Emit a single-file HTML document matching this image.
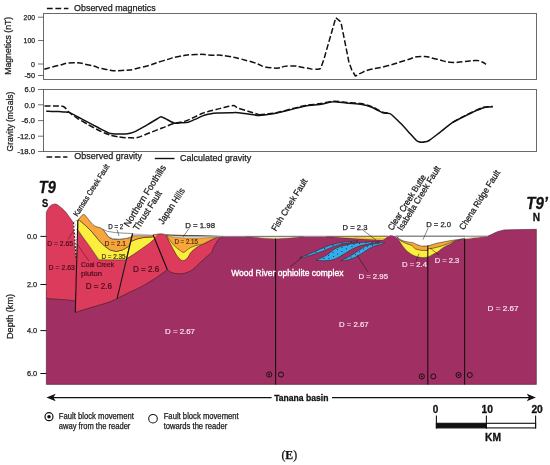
<!DOCTYPE html>
<html><head><meta charset="utf-8"><title>Figure E</title>
<style>
html,body{margin:0;padding:0;background:#fff;}
body{width:550px;height:465px;overflow:hidden;font-family:"Liberation Sans",sans-serif;}
svg{display:block;will-change:transform;}
text{font-family:"Liberation Sans",sans-serif;}
.serif{font-family:"Liberation Serif",serif;}
</style></head><body>
<svg width="550" height="465" viewBox="0 0 550 465">
<rect width="550" height="465" fill="#ffffff"/>

<rect x="43.5" y="13.5" width="493.0" height="66" fill="#fff" stroke="#6a6a6a" stroke-width="1"/>
<line x1="38" y1="17.2" x2="43.6" y2="17.2" stroke="#444" stroke-width="0.75"/>
<text x="23.6" y="20.1" font-size="8" textLength="11.4" lengthAdjust="spacingAndGlyphs" fill="#1a1a1a" stroke="#1a1a1a" stroke-width="0.25">200</text>
<line x1="38" y1="40.5" x2="43.6" y2="40.5" stroke="#444" stroke-width="0.75"/>
<text x="23.6" y="43.4" font-size="8" textLength="11.4" lengthAdjust="spacingAndGlyphs" fill="#1a1a1a" stroke="#1a1a1a" stroke-width="0.25">100</text>
<line x1="38" y1="64.0" x2="43.6" y2="64.0" stroke="#444" stroke-width="0.75"/>
<text x="31.1" y="66.8" font-size="8" textLength="3.9" lengthAdjust="spacingAndGlyphs" fill="#1a1a1a" stroke="#1a1a1a" stroke-width="0.25">0</text>
<line x1="38" y1="75.5" x2="43.6" y2="75.5" stroke="#444" stroke-width="0.75"/>
<text x="24.4" y="78.3" font-size="8" textLength="10.6" lengthAdjust="spacingAndGlyphs" fill="#1a1a1a" stroke="#1a1a1a" stroke-width="0.25">-50</text>
<text transform="translate(11 74.8) rotate(-90)" font-size="9.2" textLength="58" lengthAdjust="spacingAndGlyphs" fill="#1a1a1a" stroke="#1a1a1a" stroke-width="0.25">Magnetics (nT)</text>
<line x1="46.9" y1="8.5" x2="68.4" y2="8.5" stroke="#111" stroke-width="1.35" stroke-dasharray="5.8 2.7"/>
<text x="74.1" y="10.9" font-size="9.4" textLength="81.6" lengthAdjust="spacingAndGlyphs" fill="#1a1a1a" stroke="#1a1a1a" stroke-width="0.25">Observed magnetics</text>
<path d="M44.3 69.3 C48.9 68.1 48.3 67.8 58.0 65.6 C67.7 63.4 62.7 62.9 73.4 62.8 C84.1 62.7 79.5 63.2 90.0 65.3 C100.5 67.4 94.4 67.5 105.0 69.2 C115.6 70.9 109.6 71.2 121.9 70.5 C134.2 69.8 128.1 70.5 142.0 67.2 C155.9 63.9 150.9 64.2 163.6 60.6 C176.3 57.0 169.2 58.3 180.0 56.3 C190.8 54.3 185.3 54.9 196.0 54.5 C206.7 54.1 201.9 54.7 212.0 55.2 C222.1 55.7 213.8 54.0 226.3 56.0 C238.8 58.0 234.6 57.4 249.5 61.3 C264.4 65.2 257.6 66.3 271.0 67.8 C284.4 69.3 278.3 65.9 289.6 65.9 C300.9 65.9 296.7 66.7 305.0 67.8 C313.3 68.9 309.2 69.0 314.4 69.3 C319.6 69.6 318.5 68.8 320.6 68.6  L324.0 59.0 L335.8 17.7 L340.9 22.0 L348.9 62.0 L351.6 69.6 L355.4 76.0 C357.7 74.9 357.2 74.7 362.0 72.6 C366.8 70.5 361.2 71.9 370.0 69.6 C378.8 67.3 376.8 68.6 388.5 65.6 C400.2 62.6 394.2 63.5 405.0 60.5 C415.8 57.5 410.7 57.1 421.0 56.6 C431.3 56.1 426.2 57.1 436.0 59.0 C445.8 60.9 441.4 61.3 450.4 62.2 C459.4 63.1 454.8 62.1 463.0 61.6 C471.2 61.1 469.0 60.6 475.0 60.6 C481.0 60.6 477.3 60.4 481.0 61.6 C484.7 62.8 484.3 63.4 486.0 64.3" fill="none" stroke="#111" stroke-width="1.5" stroke-dasharray="6 2.4" stroke-linejoin="round"/>
<rect x="43.5" y="89.5" width="493.0" height="62" fill="#fff" stroke="#6a6a6a" stroke-width="1"/>
<line x1="38" y1="89.5" x2="43.6" y2="89.5" stroke="#444" stroke-width="0.75"/>
<text x="24.5" y="92.3" font-size="8" textLength="10.5" lengthAdjust="spacingAndGlyphs" fill="#1a1a1a" stroke="#1a1a1a" stroke-width="0.25">6.0</text>
<line x1="38" y1="104.8" x2="43.6" y2="104.8" stroke="#444" stroke-width="0.75"/>
<text x="24.5" y="107.6" font-size="8" textLength="10.5" lengthAdjust="spacingAndGlyphs" fill="#1a1a1a" stroke="#1a1a1a" stroke-width="0.25">0.0</text>
<line x1="38" y1="120.6" x2="43.6" y2="120.6" stroke="#444" stroke-width="0.75"/>
<text x="21.4" y="123.4" font-size="8" textLength="13.6" lengthAdjust="spacingAndGlyphs" fill="#1a1a1a" stroke="#1a1a1a" stroke-width="0.25">-6.0</text>
<line x1="38" y1="136.2" x2="43.6" y2="136.2" stroke="#444" stroke-width="0.75"/>
<text x="17.4" y="139.0" font-size="8" textLength="17.6" lengthAdjust="spacingAndGlyphs" fill="#1a1a1a" stroke="#1a1a1a" stroke-width="0.25">-12.0</text>
<line x1="38" y1="151.5" x2="43.6" y2="151.5" stroke="#444" stroke-width="0.75"/>
<text x="17.4" y="154.3" font-size="8" textLength="17.6" lengthAdjust="spacingAndGlyphs" fill="#1a1a1a" stroke="#1a1a1a" stroke-width="0.25">-18.0</text>
<text transform="translate(13.4 151.4) rotate(-90)" font-size="9.2" textLength="59.8" lengthAdjust="spacingAndGlyphs" fill="#1a1a1a" stroke="#1a1a1a" stroke-width="0.25">Gravity (mGals)</text>
<path d="M44.5 105.9 C45.7 105.9 52.9 106.0 55.0 106.0 C57.1 106.0 61.4 106.0 62.7 106.3 C64.0 106.6 65.3 107.9 66.0 108.6 C66.7 109.3 67.7 111.1 69.1 112.3 C70.5 113.5 75.9 117.4 78.0 118.8 C80.1 120.2 85.0 122.8 87.3 124.1 C89.6 125.4 96.0 129.0 98.0 130.0 C100.0 131.0 103.1 132.4 104.6 133.0 C106.1 133.6 109.3 135.0 110.9 135.4 C112.5 135.8 116.3 136.5 118.0 136.8 C119.7 137.1 124.1 137.6 125.5 137.7 C126.9 137.8 128.6 137.8 130.0 137.8 C131.4 137.8 135.0 138.2 137.3 137.6 C139.6 137.0 147.1 133.8 150.0 132.7 C152.9 131.6 159.1 129.1 162.0 128.0 C164.9 126.9 171.9 124.0 174.5 123.2 C177.1 122.4 182.3 122.0 184.5 121.4 C186.7 120.8 190.9 118.8 193.0 117.8 C195.1 116.8 200.0 114.2 202.7 113.2 C205.4 112.2 213.3 110.3 216.0 109.6 C218.7 108.9 223.9 107.4 226.0 106.9 C228.1 106.4 232.4 105.5 233.6 105.5 C234.8 105.5 235.5 106.5 236.0 106.8 C236.5 107.1 236.8 107.7 238.2 108.2 C239.6 108.7 245.6 110.5 248.0 111.2 C250.4 111.9 257.8 114.2 259.1 114.6" fill="none" stroke="#111" stroke-width="1.5" stroke-dasharray="6 2.4" stroke-linejoin="round"/>
<path d="M259.1 114.8 C261.2 114.6 270.0 114.0 274.5 113.2 C279.0 112.4 288.6 109.6 292.7 108.6 C296.8 107.6 301.7 106.1 305.5 105.4 C309.3 104.7 317.2 104.2 320.9 103.6 C324.6 103.0 330.2 101.4 333.6 101.2 C337.0 101.0 342.8 102.1 346.4 102.4 C350.0 102.7 357.5 102.9 360.9 103.5 C364.3 104.1 368.9 105.5 371.8 106.6 C374.7 107.7 380.3 111.2 382.7 112.1 C385.1 113.0 389.0 113.1 390.0 113.3" fill="none" stroke="#111" stroke-width="1.5" stroke-dasharray="6 2.4"/>
<path d="M452.7 122.3 C453.9 121.6 459.3 118.6 462.0 117.2 C464.7 115.8 469.8 113.2 472.7 111.9 C475.6 110.6 480.9 108.0 483.6 107.3 C486.3 106.6 491.5 106.6 492.7 106.5" fill="none" stroke="#111" stroke-width="1.5" stroke-dasharray="6 2.4"/>
<path d="M46.2 111.3 C46.9 111.3 50.5 111.4 52.0 111.4 C53.5 111.4 57.2 111.4 58.7 111.5 C60.2 111.6 63.8 111.8 65.0 111.9 C66.2 112.0 68.1 112.1 69.1 112.4 C70.1 112.7 72.6 114.1 73.6 114.6 C74.6 115.1 76.4 116.2 78.0 117.0 C79.6 117.8 85.0 120.6 87.3 121.8 C89.6 123.0 96.1 126.5 98.0 127.5 C99.9 128.5 102.7 129.9 104.0 130.6 C105.3 131.3 108.0 132.7 109.1 133.1 C110.1 133.5 112.1 133.7 113.0 133.8 C113.9 133.9 115.5 134.0 117.0 134.0 C118.5 134.0 124.0 134.2 125.5 134.1 C127.0 134.0 128.8 133.6 130.0 133.3 C131.2 133.0 133.4 132.5 135.5 131.4 C137.6 130.3 145.5 125.7 148.0 124.3 C150.5 122.9 155.5 119.9 157.0 119.0 C158.5 118.1 160.1 116.9 160.9 116.8 C161.7 116.7 163.3 117.7 164.0 118.0 C164.7 118.3 165.8 118.9 167.0 119.5 C168.2 120.1 172.9 122.8 174.5 123.2 C176.1 123.6 179.4 122.9 181.0 122.8 C182.6 122.7 186.6 122.7 188.2 122.3 C189.8 121.9 193.3 120.1 195.0 119.4 C196.7 118.7 201.2 116.5 202.7 115.9 C204.2 115.3 206.7 114.6 208.0 114.3 C209.3 114.0 212.2 113.4 213.6 113.2 C215.0 113.0 218.1 113.0 220.0 112.9 C221.9 112.8 227.9 112.7 230.0 112.7 C232.1 112.7 236.1 112.5 238.2 112.7 C240.3 112.9 245.6 113.7 248.0 114.0 C250.4 114.3 257.0 115.4 259.1 115.5 C261.2 115.6 264.2 115.0 266.0 114.8 C267.8 114.6 272.5 114.0 274.5 113.6 C276.5 113.2 280.9 112.1 283.0 111.6 C285.1 111.1 290.1 109.8 292.7 109.1 C295.3 108.4 302.2 106.6 305.5 106.0 C308.8 105.4 317.6 104.7 320.9 104.2 C324.2 103.7 330.6 101.9 333.6 101.8 C336.6 101.7 343.2 102.8 346.4 103.1 C349.6 103.4 358.6 103.9 360.9 104.2 C363.2 104.5 364.7 105.0 366.0 105.4 C367.3 105.8 370.5 106.8 371.8 107.3 C373.1 107.8 375.7 109.4 377.0 110.0 C378.3 110.6 381.6 112.3 382.7 112.7 C383.8 113.1 385.1 113.2 386.0 113.3 C386.9 113.4 389.2 113.3 390.0 113.6 C390.8 113.9 391.7 114.8 393.0 116.0 C394.3 117.2 398.9 121.5 400.9 123.6 C402.9 125.7 408.2 131.6 410.0 133.6 C411.8 135.6 415.3 139.5 416.4 140.5 C417.4 141.5 418.4 141.6 419.0 141.8 C419.6 142.0 421.1 142.3 421.8 142.3 C422.5 142.3 424.5 142.0 425.4 141.8 C426.3 141.6 427.4 141.6 429.1 140.5 C430.8 139.4 437.2 134.4 440.0 132.3 C442.8 130.2 450.1 124.0 452.7 122.3 C455.3 120.6 459.7 118.8 462.0 117.6 C464.3 116.4 470.8 113.2 472.7 112.3 C474.6 111.4 476.7 110.4 478.0 109.9 C479.3 109.4 482.4 108.0 483.6 107.7 C484.8 107.4 486.9 107.1 488.0 107.0 C489.1 106.9 492.2 106.8 492.7 106.8" fill="none" stroke="#111" stroke-width="1.5" stroke-linejoin="round"/>
<line x1="46.5" y1="157" x2="67.4" y2="157" stroke="#111" stroke-width="1.35" stroke-dasharray="5.7 2.6"/>
<text x="74.3" y="159.4" font-size="9.4" textLength="67.8" lengthAdjust="spacingAndGlyphs" fill="#1a1a1a" stroke="#1a1a1a" stroke-width="0.25">Observed gravity</text>
<line x1="154.8" y1="158.5" x2="174.5" y2="158.5" stroke="#111" stroke-width="1.4"/>
<text x="180" y="161.3" font-size="9.4" textLength="71.3" lengthAdjust="spacingAndGlyphs" fill="#1a1a1a" stroke="#1a1a1a" stroke-width="0.25">Calculated gravity</text>
<path d="M46.3 290.0 L46.3 384.4 L536.4 384.4 L536.4 229.3 L504.0 229.9 L498.0 231.5 L495.0 232.7 L492.0 234.2 L488.0 236.1 L476.0 237.5 L464.6 239.1 L458.9 239.8 L454.5 241.3 L450.2 244.0 L445.8 246.1 L441.5 248.8 L437.1 252.3 L432.7 254.4 L427.9 256.9 L423.3 257.5 L417.2 256.8 L411.9 254.6 L406.7 250.7 L402.3 245.5 L398.8 239.8 L397.0 238.0 L395.3 236.7 L393.0 235.7 L391.4 235.4 L389.4 235.8 L387.0 237.0 L384.0 239.3 L382.0 239.8 L376.0 239.6 L360.0 238.6 L336.0 237.0 L300.0 236.9 L260.0 236.9 L222.0 237.0 L156.0 237.0 L130.0 290.0 Z" fill="#a02f63"/>
<path d="M46.3 212.6 C46.7 211.7 46.7 211.1 47.8 209.3 C48.9 207.5 49.0 207.1 50.5 205.8 C52.0 204.5 52.1 204.7 53.6 204.3 C55.1 203.9 54.6 203.7 56.3 204.3 C58.0 204.9 57.4 204.7 59.8 206.6 C62.2 208.5 62.5 208.6 65.2 211.6 C67.9 214.6 67.7 214.9 69.9 217.8 C72.1 220.7 72.4 221.2 73.3 222.4 L77.7 220.2 L75.5 300.9 L46.3 298.6 Z" fill="#dc3b5c"/>
<path d="M46.3 298.6 L66 299.8 L75.5 300.9" fill="none" stroke="#2a1a1a" stroke-width="0.55"/>
<path d="M73.3 222.4 L77.7 220.2" fill="none" stroke="#2a1a1a" stroke-width="0.5"/>
<path d="M77.7 220.4 L77.9 229.9 L82.5 236.6 L88.3 244.4 L98.9 259.8 L126.3 259.8 L117.1 298.6 L109.6 302.0 L98.7 305.3 L87.8 308.5 L75.3 312.4 Z" fill="#dc3b5c"/>
<path d="M117.1 298.6 C115.8 299.2 112.7 300.9 109.6 302.0 C106.5 303.1 102.3 304.2 98.7 305.3 C95.1 306.4 91.7 307.3 87.8 308.5 C83.9 309.7 77.4 311.8 75.3 312.4" fill="none" stroke="#2a1a1a" stroke-width="0.55"/>
<path d="M117.1 298.6 C119.0 297.6 122.4 295.8 126.4 293.8 C130.4 291.8 132.9 290.9 137.3 288.7 C141.7 286.5 143.8 285.3 148.2 282.7 C152.6 280.1 155.3 278.4 159.1 275.8 C162.9 273.2 165.7 270.8 167.3 269.6 L167.3 269.6 L153.1 234.9 L132.6 235.0 Z" fill="#dc3b5c"/>
<path d="M117.1 298.6 C119.0 297.6 122.4 295.8 126.4 293.8 C130.4 291.8 132.9 290.9 137.3 288.7 C141.7 286.5 143.8 285.3 148.2 282.7 C152.6 280.1 155.3 278.4 159.1 275.8 C162.9 273.2 165.7 270.8 167.3 269.6" fill="none" stroke="#2a1a1a" stroke-width="0.55"/>
<path d="M153.1 234.9 L167.3 269.6 C168.0 270.1 168.4 270.5 169.8 271.4 C171.2 272.3 170.6 272.2 172.7 272.8 C174.8 273.4 174.8 273.5 177.5 273.7 C180.2 273.9 180.3 273.9 182.9 273.5 C185.5 273.1 185.0 273.2 187.4 272.3 C189.8 271.4 189.8 271.5 191.8 270.2 C193.8 268.9 193.3 269.1 195.0 267.6 C196.7 266.1 196.3 266.3 198.2 264.5 C200.1 262.7 200.0 262.9 202.0 261.0 C204.0 259.1 203.9 259.2 205.8 257.5 C207.7 255.8 207.6 256.0 209.0 254.8 C210.4 253.6 210.0 254.2 210.9 253.0 C211.8 251.8 211.7 251.9 212.4 250.4 C213.1 248.9 212.5 249.2 213.5 247.3 C214.5 245.4 214.7 245.3 216.0 243.2 C217.3 241.1 217.3 241.1 218.5 239.6 C219.7 238.1 219.5 238.4 220.6 237.6 C221.7 236.8 222.1 236.8 222.6 236.5 L166.3 234.9 L164 234.2 L160.8 233.8 L157 234.2 Z" fill="#dc3b5c" stroke="#2a1a1a" stroke-width="0.55" stroke-linejoin="round"/>
<path d="M166.3 235.2 C166.5 235.6 166.3 235.6 167.0 237.1 C167.7 238.6 168.1 239.5 169.2 241.6 C170.2 243.7 170.4 243.9 171.5 246.0 C172.6 248.1 172.8 248.5 174.0 250.6 C175.2 252.7 175.4 253.3 176.5 254.9 C177.6 256.5 177.7 256.6 178.6 257.6 C179.5 258.7 179.6 258.7 180.4 259.4 C181.2 260.1 181.3 260.1 182.0 260.4 C182.7 260.7 182.7 260.7 183.5 260.6 C184.3 260.5 184.5 260.4 185.4 259.8 C186.3 259.2 186.6 259.1 187.4 258.1 C188.2 257.1 188.3 256.8 189.0 255.6 C189.7 254.4 189.4 254.4 190.5 253.0 C191.6 251.6 192.1 251.1 193.6 249.8 C195.1 248.5 195.4 248.3 196.9 247.3 C198.4 246.3 198.5 246.2 200.0 245.5 C201.5 244.8 201.7 244.8 203.3 244.1 C204.9 243.4 205.2 243.2 207.0 242.3 C208.8 241.4 209.3 241.1 210.9 240.3 C212.5 239.5 212.5 239.4 214.0 238.7 C215.5 238.0 215.7 237.6 217.3 237.1 C218.9 236.6 220.1 236.6 221.0 236.5 Z" fill="#fbee3c" stroke="#2a1a1a" stroke-width="0.55" stroke-linejoin="round"/>
<path d="M166.6 235.3 C166.8 235.7 167.1 236.1 167.6 237.0 C168.1 237.9 168.0 237.8 168.9 239.0 C169.8 240.2 170.2 240.8 171.4 242.3 C172.6 243.8 172.8 244.1 174.0 245.4 C175.2 246.7 175.4 246.8 176.6 247.8 C177.8 248.8 178.0 249.0 179.1 249.8 C180.2 250.6 180.4 250.8 181.4 251.4 C182.4 252.0 182.6 252.4 183.5 252.4 C184.4 252.4 184.5 252.0 185.4 251.4 C186.3 250.8 186.3 250.6 187.4 249.8 C188.5 249.0 188.7 248.7 190.0 248.0 C191.3 247.3 191.5 247.2 193.1 246.6 C194.7 246.0 195.0 245.9 196.8 245.4 C198.6 244.9 199.2 244.9 200.7 244.6 C202.2 244.2 201.8 244.5 203.3 243.9 C204.8 243.3 205.2 243.0 207.0 242.1 C208.8 241.2 209.3 240.9 210.9 240.1 C212.5 239.3 212.5 239.2 214.0 238.5 C215.5 237.8 215.7 237.4 217.3 236.9 C218.9 236.4 220.1 236.6 221.0 236.5 Z" fill="#f6a63a" stroke="#2a1a1a" stroke-width="0.55" stroke-linejoin="round"/>
<path d="M166.4 234.9 L169.3 235.5 L176 235.9 L186 236.2 L200 236.3 L222.8 236.3 L222.8 236.9 L215 237.3 L200 238 L186 238.1 L176 237.4 L170 236.4 Z" fill="#f0f0f0" stroke="#555" stroke-width="0.45" stroke-linejoin="round"/>
<path d="M77.8 220.3 L79.2 219.9 L85.7 225.7 L92.1 232.1 L98.6 239.9 L100.0 241.5 L104.6 246.1 L110.1 250.0 L116.3 251.5 L122.4 250.0 L127.1 247.3 L129.9 245.0 L126.3 259.8 L98.9 259.8 L88.3 244.4 L82.5 236.6 L77.9 229.9 Z" fill="#fbee3c" stroke="#2a1a1a" stroke-width="0.55" stroke-linejoin="round"/>
<path d="M77.8 220.3 C78.3 219.6 79.4 218.2 80.5 217.0 C81.6 215.8 82.5 214.7 83.5 214.5 C84.5 214.3 84.7 215.0 85.7 216.0 C86.7 217.0 87.2 218.0 88.5 219.5 C89.8 221.0 90.7 222.3 92.1 223.7 C93.5 225.1 93.9 225.5 95.4 226.3 C96.9 227.1 98.4 227.1 99.7 227.6 C101.0 228.1 101.1 228.2 101.8 228.6 C102.5 229.0 102.4 228.7 103.1 229.5 C103.8 230.3 104.3 231.1 105.4 232.6 C106.5 234.1 107.1 235.6 108.5 236.8 C109.9 238.0 110.2 238.3 112.4 238.8 C114.6 239.3 116.5 239.3 119.3 239.2 C122.1 239.1 123.8 238.9 126.3 238.4 C128.8 237.9 130.5 237.5 131.7 236.8 C132.9 236.1 132.2 235.2 132.3 234.8 L129.9 245.0 L127.1 247.3 L122.4 250.0 L116.3 251.5 L110.1 250.0 L104.6 246.1 L100.0 241.5 L98.6 239.9 L92.1 232.1 L85.7 225.7 L79.2 219.9 Z" fill="#f6a63a" stroke="#2a1a1a" stroke-width="0.55" stroke-linejoin="round"/>
<path d="M103.1 229.5 L107.7 231.4 L115.5 232.6 L123.2 233.1 L132.6 233.5 L132.3 234.8 L131.7 236.8 L126.3 238.4 L119.3 239.2 L112.4 238.8 L108.5 236.8 L105.4 232.6 Z" fill="#ffffff" stroke="#444" stroke-width="0.60" stroke-linejoin="round"/>
<path d="M130.7 241.5 L134.4 240.0 L137.6 238.8 L141.4 237.9 L145.3 237.3 L152.3 236.9 L154.2 236.4 L154.6 238.8 L149.2 243.5 L141.5 248.9 L133.7 254.3 L126.6 258.8 Z" fill="#fbee3c" stroke="#2a1a1a" stroke-width="0.55" stroke-linejoin="round"/>
<path d="M132.1 235.6 L153.4 235.6 L154.2 236.4 L154.2 236.4 L152.3 236.9 L145.3 237.3 L141.4 237.9 L137.6 238.8 L134.4 240.0 L130.7 241.5 Z" fill="#f6a63a" stroke="#2a1a1a" stroke-width="0.55" stroke-linejoin="round"/>
<path d="M132.5 233.8 L153.1 235 L153.3 235.7 L132.1 235.7 Z" fill="#dcdcdc" stroke="#666" stroke-width="0.35"/>
<path d="M153.4 235.2 L157 234.4 L156 236 L154.4 237.6 Z" fill="#f6a63a"/>
<path d="M73.2 222.0 L77.7 220.3 L77.4 236.0 L76.9 250.0 L76.2 259.6 L75.3 250.0 L74.3 236.0 L73.6 228.0 Z" fill="#ffffff"/>
<path d="M73.6 222.4 L74 229 L74.7 238 L75.4 249 L76 258" fill="none" stroke="#111" stroke-width="1.1" stroke-dasharray="1.8 1.6"/>
<circle cx="75.6" cy="225.0" r="0.4" fill="#333"/>
<circle cx="76.4" cy="229.6" r="0.4" fill="#333"/>
<circle cx="75.8" cy="234.4" r="0.4" fill="#333"/>
<circle cx="76.5" cy="239.4" r="0.4" fill="#333"/>
<circle cx="76.1" cy="244.6" r="0.4" fill="#333"/>
<circle cx="76.4" cy="249.6" r="0.4" fill="#333"/>
<path d="M246 236.6 L304 236.6 L296 237.4 L286 238.3 L276 239 L266 238.4 L256 237.5 Z" fill="#e6d08c" stroke="#4a3a2a" stroke-width="0.3"/>
<path d="M252 236.7 L300 236.7 L288 237.4 L276 237.8 L264 237.4 Z" fill="#f4f0e4"/>
<path d="M326 236.6 L388.4 236.2 L388.6 239.5 L382 240 L374 239.7 L362 239 L348 238.1 L336 237.3 Z" fill="#fbee3c" stroke="#2a1a1a" stroke-width="0.35"/>
<path d="M354 237.6 L370 238.2 L387.6 238.9" fill="none" stroke="#f6a63a" stroke-width="0.8"/>
<path d="M299.8 257.7 C301.0 257.2 303.2 256.3 306.0 255.2 C308.8 254.1 311.1 253.2 314.0 252.0 C316.9 250.8 317.9 250.2 320.6 249.0 C323.3 247.8 325.0 247.1 327.5 246.2 C330.0 245.3 330.7 245.0 333.0 244.4 C335.3 243.8 336.0 243.5 339.0 243.0 C342.0 242.5 344.2 242.2 348.0 241.8 C351.8 241.4 357.6 240.8 358.0 241.0 C358.4 241.2 353.1 242.2 350.0 242.8 C346.9 243.4 345.3 243.4 342.7 243.9 C340.1 244.4 339.3 244.7 337.0 245.4 C334.7 246.1 333.6 246.5 331.3 247.4 C329.0 248.3 327.9 248.8 325.6 249.8 C323.3 250.8 322.3 251.2 319.8 252.2 C317.3 253.2 315.7 253.7 313.0 254.6 C310.3 255.5 307.8 256.3 306.5 256.7 Z" fill="#30aeea" stroke="#2a1a1a" stroke-width="0.5" stroke-linejoin="round"/>
<path d="M316.0 260.2 C317.2 259.7 319.7 258.7 322.0 257.6 C324.3 256.5 325.6 255.7 327.5 254.5 C329.4 253.3 329.9 252.6 331.4 251.5 C332.9 250.4 333.4 249.7 335.0 248.8 C336.6 247.9 337.7 247.5 339.6 246.8 C341.5 246.1 342.1 246.0 344.6 245.4 C347.1 244.8 348.9 244.3 352.0 243.8 C355.1 243.3 356.4 243.1 360.0 242.7 C363.6 242.3 366.1 242.2 370.0 242.0 C373.9 241.8 379.3 241.2 379.4 241.5 C379.5 241.8 373.9 242.8 370.4 243.6 C366.9 244.4 364.5 244.6 361.8 245.3 C359.1 246.0 358.7 246.2 356.8 247.0 C354.9 247.8 354.2 248.1 352.3 249.1 C350.4 250.1 349.3 250.9 347.4 252.0 C345.5 253.1 344.6 253.7 342.7 254.8 C340.8 255.9 339.9 256.6 338.0 257.6 C336.1 258.6 335.3 259.0 333.2 259.6 C331.1 260.2 329.9 260.4 327.6 260.6 C325.3 260.8 322.9 260.7 321.7 260.7 Z" fill="#30aeea" stroke="#2a1a1a" stroke-width="0.5" stroke-linejoin="round"/>
<path d="M340.8 260.5 C341.8 260.0 343.7 259.1 345.6 258.2 C347.5 257.3 348.7 256.8 350.4 255.8 C352.1 254.8 352.7 254.4 354.2 253.4 C355.7 252.4 356.5 252.0 358.0 251.0 C359.5 250.0 360.3 249.5 361.8 248.5 C363.3 247.5 363.9 246.9 365.6 246.2 C367.3 245.5 368.3 245.3 370.2 244.8 C372.1 244.3 373.2 244.1 375.2 243.7 C377.2 243.3 378.1 243.2 380.0 242.9 C381.9 242.6 384.7 242.0 384.9 242.3 C385.1 242.6 382.7 243.8 380.9 244.5 C379.1 245.2 377.9 245.0 376.0 245.6 C374.1 246.2 373.1 246.6 371.4 247.4 C369.7 248.2 369.1 248.6 367.6 249.6 C366.1 250.6 365.3 251.2 363.7 252.2 C362.1 253.2 361.3 253.7 359.8 254.6 C358.3 255.5 357.7 256.1 356.0 256.9 C354.3 257.7 353.1 258.1 351.2 258.8 C349.3 259.5 347.4 260.1 346.5 260.4 Z" fill="#30aeea" stroke="#2a1a1a" stroke-width="0.5" stroke-linejoin="round"/>
<circle cx="324.0" cy="258.6" r="0.5" fill="#111"/>
<circle cx="329.0" cy="258.2" r="0.5" fill="#111"/>
<circle cx="328.6" cy="255.2" r="0.5" fill="#111"/>
<circle cx="333.6" cy="256.4" r="0.5" fill="#111"/>
<circle cx="333.0" cy="252.4" r="0.5" fill="#111"/>
<circle cx="337.6" cy="254.0" r="0.5" fill="#111"/>
<circle cx="337.4" cy="249.6" r="0.5" fill="#111"/>
<circle cx="341.8" cy="251.6" r="0.5" fill="#111"/>
<circle cx="342.0" cy="247.4" r="0.5" fill="#111"/>
<circle cx="346.4" cy="248.8" r="0.5" fill="#111"/>
<circle cx="347.6" cy="245.6" r="0.5" fill="#111"/>
<circle cx="352.0" cy="246.4" r="0.5" fill="#111"/>
<circle cx="354.0" cy="244.2" r="0.5" fill="#111"/>
<circle cx="359.6" cy="243.6" r="0.5" fill="#111"/>
<circle cx="366.0" cy="242.8" r="0.5" fill="#111"/>
<circle cx="372.0" cy="242.4" r="0.5" fill="#111"/>
<circle cx="346.0" cy="258.8" r="0.5" fill="#111"/>
<circle cx="351.0" cy="257.0" r="0.5" fill="#111"/>
<circle cx="355.4" cy="254.4" r="0.5" fill="#111"/>
<circle cx="359.6" cy="251.8" r="0.5" fill="#111"/>
<circle cx="363.6" cy="249.0" r="0.5" fill="#111"/>
<circle cx="367.6" cy="246.8" r="0.5" fill="#111"/>
<circle cx="372.4" cy="245.2" r="0.5" fill="#111"/>
<circle cx="378.0" cy="243.8" r="0.5" fill="#111"/>
<circle cx="307.0" cy="255.6" r="0.5" fill="#111"/>
<circle cx="316.0" cy="252.2" r="0.5" fill="#111"/>
<circle cx="324.6" cy="248.6" r="0.5" fill="#111"/>
<circle cx="333.0" cy="245.4" r="0.5" fill="#111"/>
<circle cx="342.0" cy="243.2" r="0.5" fill="#111"/>
<circle cx="351.0" cy="241.9" r="0.5" fill="#111"/>
<path d="M398.0 238.4 C398.2 238.7 398.2 238.8 398.8 239.8 C399.4 240.8 399.6 241.5 400.4 242.8 C401.2 244.1 401.4 244.2 402.3 245.5 C403.2 246.8 403.4 247.0 404.4 248.2 C405.4 249.4 405.6 249.6 406.7 250.7 C407.8 251.8 408.0 251.9 409.2 252.8 C410.4 253.7 410.7 253.9 411.9 254.6 C413.1 255.3 413.2 255.3 414.4 255.8 C415.6 256.3 415.9 256.4 417.2 256.8 C418.5 257.2 418.6 257.1 420.0 257.3 C421.4 257.5 421.5 257.6 423.3 257.5 C425.1 257.4 425.7 257.6 427.9 256.9 C430.1 256.2 430.6 255.5 432.7 254.4 C434.8 253.3 435.0 253.6 437.1 252.3 C439.2 251.0 439.5 250.2 441.5 248.8 C443.5 247.4 443.8 247.2 445.8 246.1 C447.8 245.0 448.2 245.1 450.2 244.0 C452.2 242.9 452.5 242.3 454.5 241.3 C456.5 240.3 456.5 240.4 458.9 239.8 C461.3 239.2 463.3 238.9 464.6 238.6 L464.6 238.2 L458.9 239.2 L450.2 240.5 L437.1 243.1 L427.9 245.8 L421.5 245.9 L417.2 244.6 L412.8 242.4 L408.4 241.9 L404.1 241.1 L399.3 238.9 L397.6 237.0 Z" fill="#fbee3c" stroke="#2a1a1a" stroke-width="0.55" stroke-linejoin="round"/>
<path d="M397.6 237.0 C397.9 237.3 398.2 238.2 399.3 238.9 C400.4 239.6 402.6 240.6 404.1 241.1 C405.6 241.6 406.9 241.7 408.4 241.9 C409.8 242.1 411.3 242.0 412.8 242.4 C414.3 242.8 415.8 244.0 417.2 244.6 C418.6 245.2 419.7 245.7 421.5 245.9 C423.3 246.1 425.3 246.3 427.9 245.8 C430.5 245.3 433.4 244.0 437.1 243.1 C440.8 242.2 446.6 241.2 450.2 240.5 C453.8 239.8 456.5 239.6 458.9 239.2 C461.3 238.8 463.7 238.4 464.6 238.2 L464.6 238.5 L458.9 239.6 L454.5 240.9 L448.4 243.5 L441.5 246.1 L432.7 248.3 L427.9 248.8 L427.7 250.5 L420.6 250.3 L415.4 248.9 L413.8 247.4 L411.9 245.5 L406.7 243.7 L401.0 241.1 L399.6 239.6 Z" fill="#f6a63a" stroke="#2a1a1a" stroke-width="0.55" stroke-linejoin="round"/>
<path d="M396.4 236.2 L464.6 236.2 L464.6 238.2 L458.9 239.2 L450.2 240.5 L437.1 243.1 L427.9 245.8 L421.5 245.9 L417.2 244.6 L412.8 242.4 L408.4 241.9 L404.1 241.1 L399.3 238.9 L397.6 237.0 Z" fill="#ffffff" stroke="#555" stroke-width="0.4" stroke-linejoin="round"/>
<path d="M464.6 236.2 L488.4 236.2 L476 237.5 L464.6 239 Z" fill="#ffffff"/>
<path d="M464.6 238.8 L476 237.4 L488 236.3" fill="none" stroke="#b89a3a" stroke-width="0.6"/>
<path d="M394.6 236.2 L488.6 236.2" fill="none" stroke="#6a6a6a" stroke-width="0.95"/>
<path d="M222 236.4 L300 236.3 L336 236.3 L388 236.2" stroke="#666" stroke-width="0.9" fill="none"/>
<path d="M383 240.2 L384 239.3 L387 237 L389.4 235.8 L391.4 235.4 L393 235.7 L395.3 236.7 L397 238 L398.8 239.8 L399.4 242 L383 242 Z" fill="#a02f63"/>
<path d="M46.3 212.6 L46.3 384.4 L536.4 384.4 L536.4 229.3 L504 229.9 L498 231.5 L495 232.7 L492 234.2 L488 236.1" fill="none" stroke="#3a1424" stroke-width="0.5"/>
<path d="M46.3 212.6 C46.7 211.7 46.7 211.1 47.8 209.3 C48.9 207.5 49.0 207.1 50.5 205.8 C52.0 204.5 52.1 204.7 53.6 204.3 C55.1 203.9 54.6 203.7 56.3 204.3 C58.0 204.9 57.4 204.7 59.8 206.6 C62.2 208.5 62.5 208.6 65.2 211.6 C67.9 214.6 67.7 214.9 69.9 217.8 C72.1 220.7 72.4 221.2 73.3 222.4" fill="none" stroke="#3a1424" stroke-width="0.5"/>
<path d="M77.8 220.2 L75.3 312.4" stroke="#1a1010" stroke-width="1.10" fill="none"/>
<path d="M132.6 233.5 L117.1 298.6" stroke="#1a1010" stroke-width="1.10" fill="none"/>
<path d="M153.1 234.9 L167.3 269.6" stroke="#1a1010" stroke-width="1.10" fill="none"/>
<path d="M275.6 238.6 L275.6 384.4" stroke="#1a1010" stroke-width="1.10" fill="none"/>
<path d="M427.8 245.4 L427.8 384.4" stroke="#1a1010" stroke-width="1.10" fill="none"/>
<path d="M464.6 238.8 L464.6 384.4" stroke="#1a1010" stroke-width="1.10" fill="none"/>
<circle cx="269.2" cy="374.5" r="2.6" fill="none" stroke="#1a1010" stroke-width="1"/>
<circle cx="269.2" cy="374.5" r="0.9" fill="#1a1010"/>
<circle cx="281.0" cy="374.5" r="2.5" fill="none" stroke="#1a1010" stroke-width="1"/>
<circle cx="421.8" cy="376.4" r="2.6" fill="none" stroke="#1a1010" stroke-width="1"/>
<circle cx="421.8" cy="376.4" r="0.9" fill="#1a1010"/>
<circle cx="433.3" cy="376.4" r="2.5" fill="none" stroke="#1a1010" stroke-width="1"/>
<circle cx="458.6" cy="375.0" r="2.6" fill="none" stroke="#1a1010" stroke-width="1"/>
<circle cx="458.6" cy="375.0" r="0.9" fill="#1a1010"/>
<circle cx="469.8" cy="375.0" r="2.5" fill="none" stroke="#1a1010" stroke-width="1"/>
<line x1="40.4" y1="236.4" x2="46.4" y2="236.4" stroke="#111" stroke-width="1"/>
<text x="27" y="238.9" font-size="8" textLength="10.2" lengthAdjust="spacingAndGlyphs" fill="#1a1a1a" stroke="#1a1a1a" stroke-width="0.25">0.0</text>
<line x1="40.4" y1="284.5" x2="46.4" y2="284.5" stroke="#111" stroke-width="1"/>
<text x="27" y="287.0" font-size="8" textLength="10.2" lengthAdjust="spacingAndGlyphs" fill="#1a1a1a" stroke="#1a1a1a" stroke-width="0.25">2.0</text>
<line x1="40.4" y1="330.6" x2="46.4" y2="330.6" stroke="#111" stroke-width="1"/>
<text x="27" y="333.1" font-size="8" textLength="10.2" lengthAdjust="spacingAndGlyphs" fill="#1a1a1a" stroke="#1a1a1a" stroke-width="0.25">4.0</text>
<line x1="40.4" y1="373.5" x2="46.4" y2="373.5" stroke="#111" stroke-width="1"/>
<text x="27" y="376.0" font-size="8" textLength="10.2" lengthAdjust="spacingAndGlyphs" fill="#1a1a1a" stroke="#1a1a1a" stroke-width="0.25">6.0</text>
<text transform="translate(13.4 339) rotate(-90)" font-size="9" textLength="45" lengthAdjust="spacingAndGlyphs" fill="#1a1a1a" stroke="#1a1a1a" stroke-width="0.25">Depth (km)</text>
<text x="47.2" y="245.8" font-size="7.5" fill="#4a0c1c" stroke="#4a0c1c" stroke-width="0.2" textLength="25.8" lengthAdjust="spacingAndGlyphs">D = 2.65</text>
<text x="48.6" y="269.9" font-size="7.5" fill="#4a0c1c" stroke="#4a0c1c" stroke-width="0.2" textLength="26.3" lengthAdjust="spacingAndGlyphs">D = 2.63</text>
<text x="81.0" y="267.2" font-size="7.8" fill="#4a0c1c" stroke="#4a0c1c" stroke-width="0.2" textLength="33.0" lengthAdjust="spacingAndGlyphs">Coal Creek</text>
<text x="81.0" y="276.2" font-size="7.8" fill="#4a0c1c" stroke="#4a0c1c" stroke-width="0.2" textLength="21.0" lengthAdjust="spacingAndGlyphs">pluton</text>
<text x="85.7" y="288.6" font-size="9.2" fill="#4a0c1c" stroke="#4a0c1c" stroke-width="0.2" textLength="26.3" lengthAdjust="spacingAndGlyphs">D = 2.6</text>
<text x="133.0" y="272.4" font-size="9.2" fill="#4a0c1c" stroke="#4a0c1c" stroke-width="0.2" textLength="26.3" lengthAdjust="spacingAndGlyphs">D = 2.6</text>
<text x="104.4" y="246.2" font-size="7.2" fill="#4a2a08" stroke="#4a2a08" stroke-width="0.2" textLength="21.6" lengthAdjust="spacingAndGlyphs">D = 2.1</text>
<text x="101.4" y="258.6" font-size="7.2" fill="#3a2a10" stroke="#3a2a10" stroke-width="0.2" textLength="24.2" lengthAdjust="spacingAndGlyphs">D = 2.35</text>
<text x="108.2" y="229.0" font-size="7.2" fill="#222" textLength="15.0" lengthAdjust="spacingAndGlyphs" stroke="#222" stroke-width="0.25">D = 2</text>
<text x="174.4" y="244.2" font-size="7.2" fill="#4a2a08" stroke="#4a2a08" stroke-width="0.2" textLength="23.6" lengthAdjust="spacingAndGlyphs">D = 2.15</text>
<text x="185.2" y="227.6" font-size="7.6" fill="#222" textLength="29.8" lengthAdjust="spacingAndGlyphs" stroke="#222" stroke-width="0.25">D = 1.98</text>
<text x="342.6" y="229.6" font-size="7.6" fill="#222" textLength="24.8" lengthAdjust="spacingAndGlyphs" stroke="#222" stroke-width="0.25">D = 2.3</text>
<text x="426.2" y="226.8" font-size="7.6" fill="#222" textLength="24.8" lengthAdjust="spacingAndGlyphs" stroke="#222" stroke-width="0.25">D = 2.0</text>
<text x="358.4" y="278.8" font-size="8.1" fill="#f7e6ee" stroke="#f7e6ee" stroke-width="0.2" textLength="29.6" lengthAdjust="spacingAndGlyphs">D = 2.95</text>
<text x="402.0" y="267.2" font-size="8.1" fill="#f7e6ee" stroke="#f7e6ee" stroke-width="0.2" textLength="25.0" lengthAdjust="spacingAndGlyphs">D = 2.4</text>
<text x="434.8" y="262.7" font-size="8.1" fill="#f7e6ee" stroke="#f7e6ee" stroke-width="0.2" textLength="24.4" lengthAdjust="spacingAndGlyphs">D = 2.3</text>
<text x="165.0" y="334.0" font-size="8.1" fill="#f7e6ee" stroke="#f7e6ee" stroke-width="0.2" textLength="30.0" lengthAdjust="spacingAndGlyphs">D = 2.67</text>
<text x="339.0" y="326.6" font-size="8.1" fill="#f7e6ee" stroke="#f7e6ee" stroke-width="0.2" textLength="29.5" lengthAdjust="spacingAndGlyphs">D = 2.67</text>
<text x="487.5" y="311.0" font-size="8.1" fill="#f7e6ee" stroke="#f7e6ee" stroke-width="0.2" textLength="31.0" lengthAdjust="spacingAndGlyphs">D = 2.67</text>
<text x="231.2" y="276.2" font-size="8.8" fill="#ffffff" stroke="#ffffff" stroke-width="0.38" textLength="112.2" lengthAdjust="spacingAndGlyphs">Wood River ophiolite complex</text>
<line x1="73.6" y1="230.6" x2="68.0" y2="239.4" stroke="#4a0c1c" stroke-width="0.50"/>
<line x1="89.0" y1="261.0" x2="77.0" y2="244.0" stroke="#4a0c1c" stroke-width="0.50"/>
<line x1="117.0" y1="229.4" x2="119.0" y2="236.0" stroke="#1a1010" stroke-width="0.50"/>
<line x1="189.0" y1="228.4" x2="183.0" y2="237.0" stroke="#1a1010" stroke-width="0.50"/>
<line x1="363.0" y1="230.2" x2="376.0" y2="240.0" stroke="#1a1010" stroke-width="0.50"/>
<line x1="428.2" y1="228.0" x2="423.0" y2="239.6" stroke="#1a1010" stroke-width="0.50"/>
<line x1="416.0" y1="261.0" x2="419.0" y2="253.6" stroke="#1a1010" stroke-width="0.50"/>
<line x1="439.0" y1="255.0" x2="430.0" y2="248.0" stroke="#1a1010" stroke-width="0.50"/>
<line x1="368.0" y1="272.0" x2="357.0" y2="255.0" stroke="#1a1010" stroke-width="0.50"/>
<line x1="290.0" y1="267.0" x2="302.0" y2="257.4" stroke="#1a1010" stroke-width="0.50"/>
<text transform="translate(77.5 217.1) rotate(-57.6)" font-size="7.9" textLength="60.0" lengthAdjust="spacingAndGlyphs" fill="#1a1a1a" stroke="#1a1a1a" stroke-width="0.25">Kansas Creek Fault</text>
<text transform="translate(128.7 227.5) rotate(-58.0)" font-size="9.4" textLength="70.9" lengthAdjust="spacingAndGlyphs" fill="#1a1a1a" stroke="#1a1a1a" stroke-width="0.25">Northern Foothills</text>
<text transform="translate(138.0 231.3) rotate(-57.4)" font-size="9.4" textLength="45.2" lengthAdjust="spacingAndGlyphs" fill="#1a1a1a" stroke="#1a1a1a" stroke-width="0.25">Thrust Fault</text>
<text transform="translate(162.9 225.0) rotate(-57.0)" font-size="9.4" textLength="41.1" lengthAdjust="spacingAndGlyphs" fill="#1a1a1a" stroke="#1a1a1a" stroke-width="0.25">Japan Hills</text>
<text transform="translate(276.0 231.8) rotate(-58.0)" font-size="8.9" textLength="59.9" lengthAdjust="spacingAndGlyphs" fill="#1a1a1a" stroke="#1a1a1a" stroke-width="0.25">Fish Creek Fault</text>
<text transform="translate(392.6 231.0) rotate(-58.1)" font-size="8.9" textLength="63.7" lengthAdjust="spacingAndGlyphs" fill="#1a1a1a" stroke="#1a1a1a" stroke-width="0.25">Clear Creek Butte</text>
<text transform="translate(402.1 231.3) rotate(-58.4)" font-size="8.9" textLength="73.9" lengthAdjust="spacingAndGlyphs" fill="#1a1a1a" stroke="#1a1a1a" stroke-width="0.25">Isabella Creek Fault</text>
<text transform="translate(463.8 230.6) rotate(-57.8)" font-size="8.9" textLength="68.6" lengthAdjust="spacingAndGlyphs" fill="#1a1a1a" stroke="#1a1a1a" stroke-width="0.25">Chena Ridge Fault</text>
<text x="38.8" y="192.8" font-size="16.6" font-weight="bold" font-style="italic" fill="#111" textLength="17" lengthAdjust="spacingAndGlyphs" stroke="#111" stroke-width="0.3">T9</text>
<text x="41.9" y="206.7" font-size="10.6" font-weight="bold" fill="#111" textLength="6.2" lengthAdjust="spacingAndGlyphs" stroke="#111" stroke-width="0.3">S</text>
<text x="526.2" y="208.5" font-size="16.8" font-weight="bold" font-style="italic" fill="#111" textLength="21.8" lengthAdjust="spacingAndGlyphs" stroke="#111" stroke-width="0.3">T9’</text>
<text x="532.8" y="220.8" font-size="10.6" font-weight="bold" fill="#111" textLength="7.3" lengthAdjust="spacingAndGlyphs" stroke="#111" stroke-width="0.3">N</text>
<line x1="52" y1="397.5" x2="271.6" y2="397.5" stroke="#111" stroke-width="1.25"/>
<line x1="332" y1="397.5" x2="530" y2="397.5" stroke="#111" stroke-width="1.25"/>
<path d="M46.4 397.5 L55.7 393.7 L53.4 397.5 L55.7 401.3 Z" fill="#111"/>
<path d="M535.9 397.5 L526.8 393.8 L529 397.5 L526.8 401.2 Z" fill="#111"/>
<text x="274.2" y="400.8" font-size="9.6" font-weight="bold" fill="#111" textLength="54.2" lengthAdjust="spacingAndGlyphs" stroke="#111" stroke-width="0.3">Tanana basin</text>
<circle cx="49" cy="416.7" r="4" fill="#fff" stroke="#111" stroke-width="1.2"/>
<circle cx="49" cy="416.7" r="1.8" fill="#111"/>
<text x="58.8" y="419" font-size="8.2" textLength="75" lengthAdjust="spacingAndGlyphs" fill="#1a1a1a" stroke="#1a1a1a" stroke-width="0.25">Fault block movement</text>
<text x="58.8" y="429" font-size="8.2" textLength="71.6" lengthAdjust="spacingAndGlyphs" fill="#1a1a1a" stroke="#1a1a1a" stroke-width="0.25">away from the reader</text>
<circle cx="153" cy="418.7" r="4.3" fill="#fff" stroke="#111" stroke-width="1.05"/>
<text x="163.7" y="418.8" font-size="8.2" textLength="75" lengthAdjust="spacingAndGlyphs" fill="#1a1a1a" stroke="#1a1a1a" stroke-width="0.25">Fault block movement</text>
<text x="163.7" y="429.2" font-size="8.2" textLength="63.6" lengthAdjust="spacingAndGlyphs" fill="#1a1a1a" stroke="#1a1a1a" stroke-width="0.25">towards the reader</text>
<rect x="436.4" y="423.3" width="50" height="4.6" fill="#111" stroke="#111" stroke-width="1.1"/>
<rect x="486.4" y="423.3" width="49.2" height="4.6" fill="#fff" stroke="#111" stroke-width="1.1"/>
<line x1="436.4" y1="415.5" x2="436.4" y2="428.4" stroke="#111" stroke-width="1.1"/>
<line x1="486.4" y1="415.5" x2="486.4" y2="428.4" stroke="#111" stroke-width="1.1"/>
<line x1="535.6" y1="415.5" x2="535.6" y2="428.4" stroke="#111" stroke-width="1.1"/>
<text x="435.6" y="413.2" font-size="10" font-weight="bold" fill="#111" text-anchor="middle" stroke="#111" stroke-width="0.3">0</text>
<text x="481.6" y="413.2" font-size="10" font-weight="bold" fill="#111" textLength="11.4" lengthAdjust="spacingAndGlyphs" stroke="#111" stroke-width="0.3">10</text>
<text x="531.4" y="413.2" font-size="10" font-weight="bold" fill="#111" textLength="11.4" lengthAdjust="spacingAndGlyphs" stroke="#111" stroke-width="0.3">20</text>
<text x="485" y="441" font-size="10.6" font-weight="bold" fill="#111" textLength="16" lengthAdjust="spacingAndGlyphs" stroke="#111" stroke-width="0.3">KM</text>
<text class="serif" x="281.4" y="458.6" font-size="11.8" fill="#111" style="font-family:'Liberation Serif',serif" stroke="#111" stroke-width="0.25">(<tspan font-weight="bold">E</tspan>)</text>
</svg>
</body></html>
